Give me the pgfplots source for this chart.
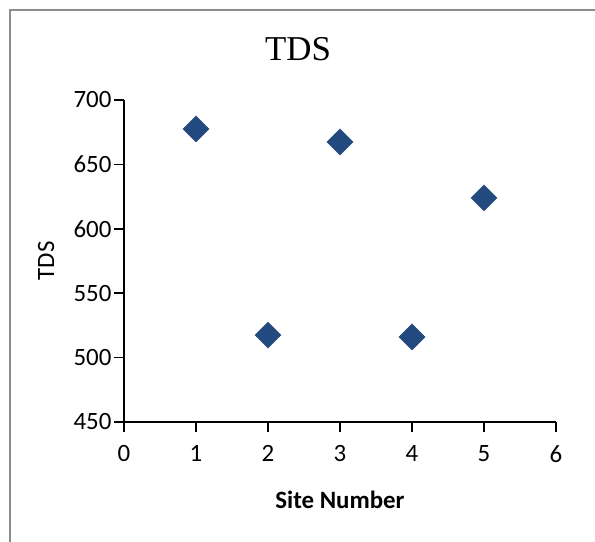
\documentclass[border=0pt]{standalone}
\usepackage{pgfplots}
\pgfplotsset{compat=1.18}
\usepackage{fontspec}
\setmainfont{Carlito}
\newfontfamily\titlefont{Liberation Serif}
\definecolor{mk}{HTML}{234A7E}
\begin{document}
\begin{tikzpicture}[x=1bp,y=1bp]
\path[use as bounding box] (0,0) rectangle (595,542);
\draw[gray!90, line width=1.5bp] (10,0) -- (10,532) -- (595,532);
\node[font=\titlefont\fontsize{35}{40}\selectfont] at (298,493) {TDS};
\begin{axis}[
  at={(124bp,120bp)}, anchor=south west,
  scale only axis, width=432bp, height=322bp,
  xmin=0, xmax=6, ymin=450, ymax=700,
  xtick={0,1,...,6}, ytick={450,500,...,700},
  axis lines*=left,
  axis line style={line width=1.6bp, -},
  tick style={line width=1.6bp, black},
  tick align=outside, major tick length=10bp,
  tick label style={font=\fontsize{25}{29}\selectfont},
  xticklabel style={yshift=-10bp},
  yticklabel style={xshift=1bp},
  /pgf/number format/assume math mode=true,
  xlabel={\bfseries Site Number}, ylabel={TDS},
  label style={font=\fontsize{25}{29}\selectfont},
  xlabel style={at={(axis description cs:0.5,-0.242)}, anchor=center},
  ylabel style={at={(axis description cs:-0.18,0.5)}, anchor=center, rotate=0},
  clip=false,
]
\addplot[only marks, mark=square*, mark size=9.2bp, mark options={fill=mk, draw=mk, rotate=45}, color=mk]
coordinates {(1,677.5) (2,517.5) (3,667.4) (4,516) (5,624)};
\end{axis}
\end{tikzpicture}
\end{document}
